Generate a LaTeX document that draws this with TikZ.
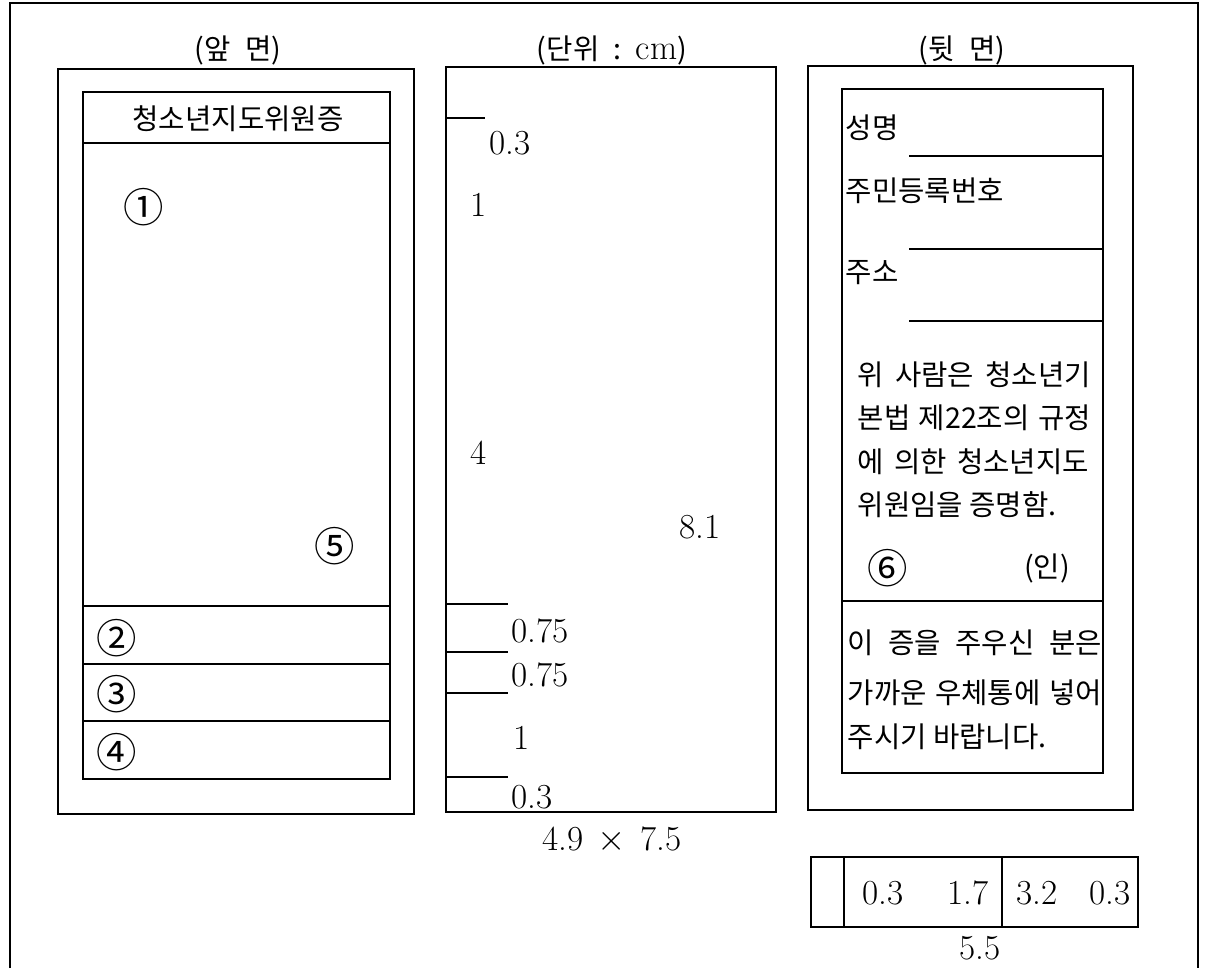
\documentclass[tikz,border=0pt]{standalone}
\usepackage{fontspec}
\newfontfamily\kr{Noto Sans CJK KR}
\usepackage{tikz}

\begin{document}
\begin{tikzpicture}[x=0.02cm, y=-0.02cm, line width=0.9pt,
  every node/.style={font=\fontsize{20}{22}\selectfont, inner sep=0pt},
  ko/.style={font=\kr\fontsize{16.3}{18}\selectfont},
  circ/.style={font=\kr\fontsize{23}{24}\selectfont},
  num/.style={font=\fontsize{20}{22}\selectfont}]
  \useasboundingbox (0,0) rectangle (1209,968);

  % Outer frame, open at the bottom
  \draw (10,968) -- (10,3) -- (1198,3) -- (1198,968);

  % Front side of the card
  \node[ko] (fronthead) at (238,50) {(앞\hspace{0.5em}면)};
  \draw (58,69) rectangle (414,814);
  \draw (83,92) rectangle (390,779);
  \draw (83,143) -- (390,143);
  \draw (83,606) -- (390,606);
  \draw (83,664) -- (390,664);
  \draw (83,721) -- (390,721);
  \node[ko] (title) at (238,119) {청소년지도위원증};
  \node[circ] (photo) at (144,207) {①};
  \node[circ] (seal) at (335,546) {⑤};
  \node[circ] (rowa) at (117,638) {②};
  \node[circ] (rowb) at (117,694) {③};
  \node[circ] (rowc) at (117,752) {④};

  % Dimensions in the middle
  \node[ko] (unit) at (612,50) {(단위\hspace{0.5em}:\hspace{0.5em}{\rmfamily\fontsize{20}{22}\selectfont cm})};
  \draw (446,67) rectangle (776,812);
  \draw (446,118) -- (485,118);
  \draw (446,604) -- (508,604);
  \draw (446,652) -- (508,652);
  \draw (446,693) -- (508,693);
  \draw (446,777) -- (508,777);
  \node[num, anchor=west] (dtop) at (489,143) {0.3};
  \node[num, anchor=west] (dtitle) at (470,205) {1};
  \node[num, anchor=west] (dphoto) at (470,453) {4};
  \node[num] (dheight) at (700,527) {8.1};
  \node[num, anchor=west] (drowa) at (511,631) {0.75};
  \node[num, anchor=west] (drowb) at (511,675) {0.75};
  \node[num, anchor=west] (drowc) at (513,738) {1};
  \node[num, anchor=west] (dbottom) at (511,797) {0.3};
  \node[num] (size) at (612,840) {4.9\hspace{0.4em}$\times$\hspace{0.4em}7.5};

  % Back side of the card
  \node[ko] (backhead) at (962,50) {(뒷\hspace{0.5em}면)};
  \draw (808,66) rectangle (1133,810);
  \draw (842,89) rectangle (1103,773);
  \draw (842,601) -- (1103,601);
  \draw (909,156) -- (1103,156);
  \draw (909,249) -- (1103,249);
  \draw (909,321) -- (1103,321);
  \node[ko, anchor=west] (name) at (845,128) {성명};
  \node[ko, anchor=west] (idno) at (845,191) {주민등록번호};
  \node[ko, anchor=west] (addr) at (845,273) {주소};
  \node[ko, anchor=west] (texta) at (857,375) {\makebox[4.66cm][s]{위 사람은 청소년기}};
  \node[ko, anchor=west] (textb) at (857,418) {\makebox[4.66cm][s]{본법 제22조의 규정}};
  \node[ko, anchor=west] (textc) at (857,462) {\makebox[4.62cm][s]{에 의한 청소년지도}};
  \node[ko, anchor=west] (textd) at (857,505) {위원임을 증명함.};
  \node[circ] (sign) at (888,568) {⑥};
  \node[ko] (stamp) at (1047,568) {(인)};
  \node[ko, anchor=west] (notea) at (847,643) {\makebox[5.08cm][s]{이 증을 주우신 분은}};
  \node[ko, anchor=west] (noteb) at (847,693) {\makebox[5.08cm][s]{가까운 우체통에 넣어}};
  \node[ko, anchor=west] (notec) at (847,737) {주시기 바랍니다.};

  % Width split of the card
  \draw (811,857) rectangle (1138,927);
  \draw (844,857) -- (844,927);
  \draw (1002,857) -- (1002,927);
  \node[num] (wa) at (883,893) {0.3};
  \node[num] (wb) at (968,893) {1.7};
  \node[num] (wc) at (1037,893) {3.2};
  \node[num] (wd) at (1110,893) {0.3};
  \node[num] (width) at (980,948) {5.5};
\end{tikzpicture}
\end{document}
